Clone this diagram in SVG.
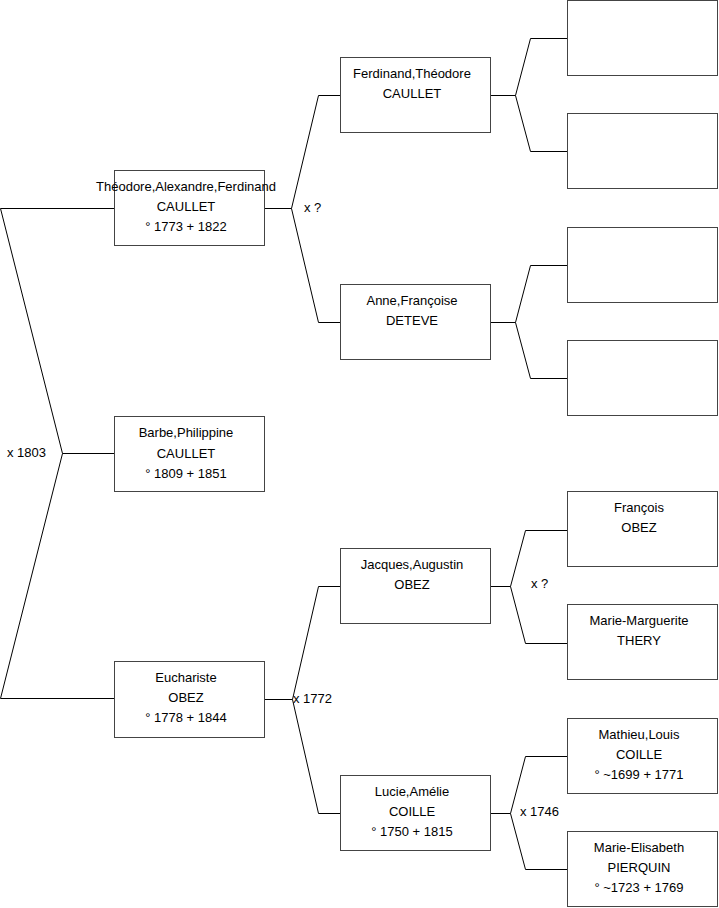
<svg xmlns="http://www.w3.org/2000/svg" width="719" height="908" viewBox="0 0 719 908">
<style>
.box{fill:#fff;stroke:#444;stroke-width:1}
.ln{fill:none;stroke:#000;stroke-width:1}
text{font-family:"Liberation Sans",Arial,sans-serif;font-size:13px;fill:#000}
.c{text-anchor:middle}
</style>
<rect width="719" height="908" fill="#fff"/>
<g id="connectors">
<path class="ln" d="M0.5,208.5 H114 M0.5,208.5 L62.5,453.5 L0.5,698.5 H114 M62.5,453.5 H114"/>
<path class="ln" d="M265,208.5 H291.5 L318.5,95.5 H340 M291.5,208.5 L318.5,322.5 H340"/>
<path class="ln" d="M265,699.5 H292.5 L318.5,586.5 H340 M292.5,699.5 L318.5,813.5 H340"/>
<path class="ln" d="M491,95.5 H515.5 L530.5,38.5 H567 M515.5,95.5 L530.5,151.5 H567"/>
<path class="ln" d="M491,322.5 H515.5 L530.5,265.5 H567 M515.5,322.5 L530.5,378.5 H567"/>
<path class="ln" d="M491,586.5 H510.5 L525.5,530.5 H567 M510.5,586.5 L525.5,643.5 H567"/>
<path class="ln" d="M491,813.5 H510.5 L525.5,756.5 H567 M510.5,813.5 L525.5,869.5 H567"/>
<text x="7" y="457">x 1803</text>
<text x="304" y="212">x ?</text>
<text x="293" y="703">x 1772</text>
<text x="531" y="588">x ?</text>
<text x="520" y="816">x 1746</text>
</g>
<g id="theodore"><rect class="box" x="114.5" y="170.5" width="150" height="75"/>
<text class="c" x="186" y="191">Théodore,Alexandre,Ferdinand</text><text class="c" x="186" y="211">CAULLET</text><text class="c" x="186" y="231">° 1773 + 1822</text></g>
<g id="barbe"><rect class="box" x="114.5" y="416.5" width="150" height="75"/>
<text class="c" x="186" y="437">Barbe,Philippine</text><text class="c" x="186" y="458">CAULLET</text><text class="c" x="186" y="478">° 1809 + 1851</text></g>
<g id="eucharist"><rect class="box" x="114.5" y="661.5" width="150" height="76"/>
<text class="c" x="186" y="682">Euchariste</text><text class="c" x="186" y="702">OBEZ</text><text class="c" x="186" y="722">° 1778 + 1844</text></g>
<g id="ferdinand"><rect class="box" x="340.5" y="57.5" width="150" height="75"/>
<text class="c" x="412" y="78">Ferdinand,Théodore</text><text class="c" x="412" y="98">CAULLET</text></g>
<g id="anne"><rect class="box" x="340.5" y="284.5" width="150" height="75"/>
<text class="c" x="412" y="305">Anne,Françoise</text><text class="c" x="412" y="325">DETEVE</text></g>
<g id="jacques"><rect class="box" x="340.5" y="548.5" width="150" height="75"/>
<text class="c" x="412" y="569">Jacques,Augustin</text><text class="c" x="412" y="589">OBEZ</text></g>
<g id="lucie"><rect class="box" x="340.5" y="775.5" width="150" height="75"/>
<text class="c" x="412" y="796">Lucie,Amélie</text><text class="c" x="412" y="816">COILLE</text><text class="c" x="412" y="836">° 1750 + 1815</text></g>
<g id="empty1"><rect class="box" x="567.5" y="0.5" width="150" height="75"/></g>
<g id="empty2"><rect class="box" x="567.5" y="113.5" width="150" height="75"/></g>
<g id="empty3"><rect class="box" x="567.5" y="227.5" width="150" height="75"/></g>
<g id="empty4"><rect class="box" x="567.5" y="340.5" width="150" height="75"/></g>
<g id="francois"><rect class="box" x="567.5" y="491.5" width="150" height="75"/>
<text class="c" x="639" y="512">François</text><text class="c" x="639" y="532">OBEZ</text></g>
<g id="marie-marguerite"><rect class="box" x="567.5" y="604.5" width="150" height="75"/>
<text class="c" x="639" y="625">Marie-Marguerite</text><text class="c" x="639" y="645">THERY</text></g>
<g id="mathieu"><rect class="box" x="567.5" y="718.5" width="150" height="75"/>
<text class="c" x="639" y="739">Mathieu,Louis</text><text class="c" x="639" y="759">COILLE</text><text class="c" x="639" y="779">° ~1699 + 1771</text></g>
<g id="marie-elisabeth"><rect class="box" x="567.5" y="831.5" width="150" height="75"/>
<text class="c" x="639" y="852">Marie-Elisabeth</text><text class="c" x="639" y="872">PIERQUIN</text><text class="c" x="639" y="892">° ~1723 + 1769</text></g>
</svg>
